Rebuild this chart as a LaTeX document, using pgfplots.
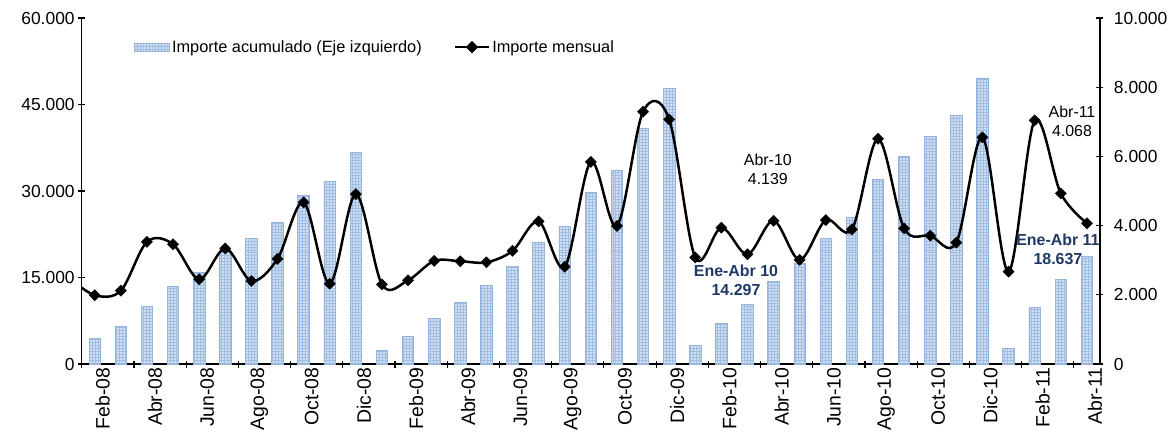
\documentclass[border=0pt]{standalone}
\usepackage{fontspec}
\setmainfont{Liberation Sans}
\usepackage{pgfplots}
\pgfplotsset{compat=1.18}
\usetikzlibrary{patterns}
\definecolor{barfill}{RGB}{208,223,243}
\definecolor{bardraw}{RGB}{150,180,216}
\definecolor{bargrid}{RGB}{160,188,224}
\definecolor{navy}{RGB}{31,56,100}
\pgfplotsset{
  barleg/.style={legend image code/.code={\draw[##1] (0bp,-4bp) rectangle (35bp,4bp);}},
  lineleg/.style={legend image code/.code={\draw[black, line width=2.5bp] (0bp,0bp) -- (34bp,0bp);
     \fill[black] (17bp,0bp) +(-4.5bp,0bp) -- +(0bp,4.5bp) -- +(4.5bp,0bp) -- +(0bp,-4.5bp) -- cycle;}},
}
\begin{document}
\begin{tikzpicture}
\useasboundingbox (-81.7bp,-74bp) rectangle (1094.3bp,364bp);
\pgfplotsset{every axis/.append style={
  scale only axis, width=1018.3bp, height=346bp,
  xmin=-0.5, xmax=38.5, at={(0,0)}, anchor=south west,
  tick label style={font=\fontsize{17.5}{20}\selectfont},
  tick align=outside, major tick length=7bp,
  tick style={line width=1.2bp, black},
  scaled y ticks=false,
  yticklabel style={/pgf/number format/fixed, /pgf/number format/1000 sep={.}, /pgf/number format/assume math mode=true},
}}
\begin{axis}[
  axis x line=bottom, axis y line=left,
  axis line style={-, line width=1.6bp},
  x axis line style={-}, y axis line style={-},
  ymin=0, ymax=60000, ytick={0,15000,30000,45000,60000},
  xtick={-0.5,1.5,...,37.5}, xticklabels={},
  xticklabel style={rotate=90, anchor=east},
  extra x ticks={0,2,...,38},
  extra x tick labels={Feb-08,Abr-08,Jun-08,Ago-08,Oct-08,Dic-08,Feb-09,Abr-09,Jun-09,Ago-09,Oct-09,Dic-09,Feb-10,Abr-10,Jun-10,Ago-10,Oct-10,Dic-10,Feb-11,Abr-11},
  extra x tick style={major tick length=0pt,
    xticklabel style={yshift=-8bp, font=\fontsize{19.5}{20}\selectfont}},
]
\addplot[ybar, bar width=11.5bp, fill=barfill, draw=bardraw, line width=0.8bp,
  postaction={pattern=grid, pattern color=bargrid}] coordinates {
(0,4500) (1,6500) (2,10050) (3,13400) (4,15900) (5,19500) (6,21700) (7,24600)
(8,29300) (9,31700) (10,36700) (11,2400) (12,4740) (13,7860) (14,10750) (15,13600)
(16,16900) (17,21000) (18,23900) (19,29800) (20,33500) (21,40900) (22,47800)
(23,3180) (24,7100) (25,10350) (26,14297) (27,17500) (28,21700) (29,25500)
(30,32000) (31,36000) (32,39500) (33,43100) (34,49600) (35,2720) (36,9830)
(37,14700) (38,18637)
};
\end{axis}
\begin{axis}[
  axis x line=none, axis y line=right,
  axis line style={-, line width=1.6bp},
  y axis line style={-},
  yticklabel shift=7bp,
  ymin=0, ymax=10000, ytick={0,2000,...,10000},
  legend columns=2,
  legend style={draw=none, fill=none, inner sep=0pt, at={(0.0514,0.916)}, anchor=west,
    font=\fontsize{16.4}{19}\selectfont,
    /tikz/every even column/.append style={column sep=30bp}},
]
\addlegendimage{fill=barfill, draw=bardraw, line width=0.8bp,
  postaction={pattern=grid, pattern color=bargrid}, barleg}
\addlegendentry{Importe acumulado (Eje izquierdo)}
\addplot[black, line width=2.5bp, smooth, tension=0.55,
  mark=square*, mark size=3.9bp, mark options={solid, rotate=45, line width=0.5bp},
  mark indices={1,...,39}, lineleg] coordinates {
(-1,2500) (0,1990) (1,2120) (2,3530) (3,3460) (4,2450) (5,3340) (6,2400) (7,3040)
(8,4670) (9,2320) (10,4910) (11,2300) (12,2420) (13,2980) (14,2970) (15,2940)
(16,3270) (17,4120) (18,2810) (19,5840) (20,3990) (21,7290) (22,7070) (23,3080)
(24,3940) (25,3170) (26,4139) (27,3010) (28,4160) (29,3890) (30,6510) (31,3920)
(32,3710) (33,3510) (34,6550) (35,2670) (36,7040) (37,4930) (38,4068)
};
\addlegendentry{Importe mensual}
\node[align=center, font=\fontsize{16}{19}\selectfont] at (axis cs:25.78,5636) {Abr-10\\4.139};
\node[align=center, font=\fontsize{16}{19}\selectfont] at (axis cs:37.43,7023) {Abr-11\\4.068};
\node[align=center, text=navy, font=\bfseries\fontsize{16}{19}\selectfont] at (axis cs:24.56,2413) {Ene-Abr 10\\14.297};
\node[align=center, text=navy, font=\bfseries\fontsize{16}{19}\selectfont] at (axis cs:36.89,3324) {Ene-Abr 11\\18.637};
\end{axis}
\end{tikzpicture}
\end{document}
